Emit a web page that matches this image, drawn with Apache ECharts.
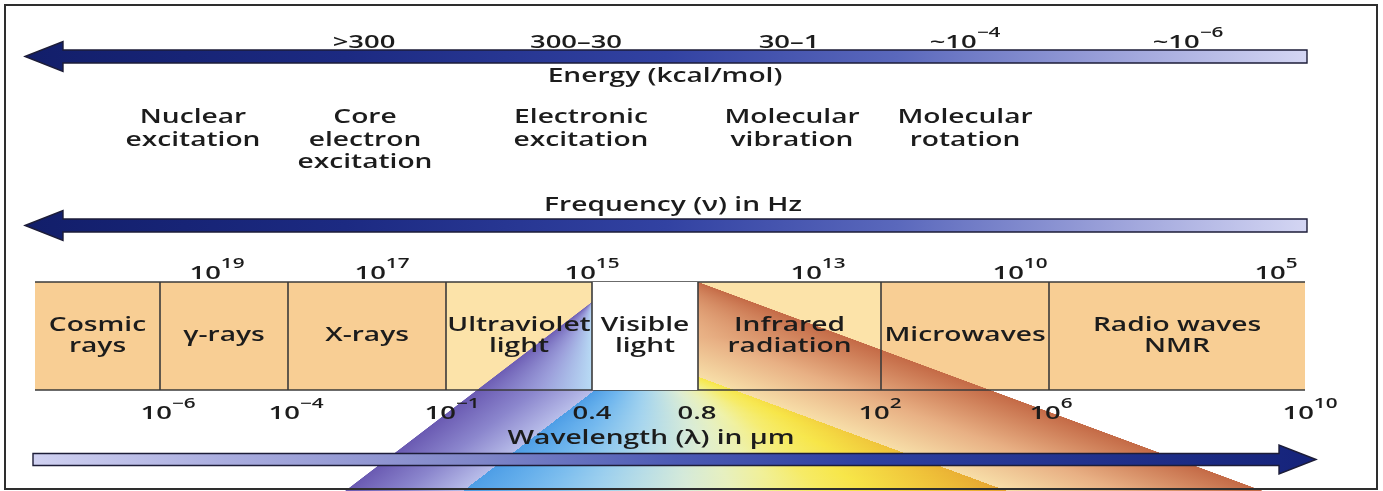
<!DOCTYPE html>
<html>
<head>
<meta charset="utf-8">
<script src="https://cdn.jsdelivr.net/npm/echarts@6/dist/echarts.min.js"></script>
<style>
html,body{margin:0;padding:0;background:#ffffff;}
#chart{width:1383px;height:491px;}
</style>
</head>
<body>
<div id="chart"></div>
<script>
// ================= DATA =================
const bandNames = ['Cosmic\nrays', 'γ-rays', 'X-rays', 'Ultraviolet\nlight', 'Visible\nlight', 'Infrared\nradiation', 'Microwaves', 'Radio waves\nNMR'];
const frequencyExponents = ['19', '17', '15', '13', '10', '5'];            // 10^n Hz
const wavelengthLabels = [['10', '−6'], ['10', '−4'], ['10', '−1'], ['0.4', ''], ['0.8', ''], ['10', '2'], ['10', '6'], ['10', '10']]; // µm
const energyLabels = [['>300', ''], ['300–30', ''], ['30–1', ''], ['~10', '−4'], ['~10', '−6']];   // kcal/mol
const processLabels = ['Nuclear\nexcitation', 'Core\nelectron\nexcitation', 'Electronic\nexcitation', 'Molecular\nvibration', 'Molecular\nrotation'];
const axisTitles = ['Energy (kcal/mol)', 'Frequency (ν) in Hz', 'Wavelength (λ) in μm'];

// ================= LAYOUT (positions in the diagram's coordinate scale) =================
const bandEdgeX = [35, 160, 288, 446, 592, 698, 881, 1049, 1305];
const freqLabelX = [217, 382, 592, 818, 1020, 1276];
const waveLabelX = [168, 296, 452, 592, 697, 880, 1051, 1310];
const energyLabelX = [364, 576, 789, 965, 1188];
const processLabelX = [193, 365, 581, 792, 965];
const axisTitlePos = [[665, 77], [673, 206], [651, 439]];
const ROW = { energy: 39, processTop: 106.5, freq: 270, band: 336, wave: 410 };
const BAND_TOP = 282, BAND_BOTTOM = 390;

// ================= STYLE =================
const FONT = "'Open Sans', 'Noto Sans', sans-serif";
const INK = '#1c1c1c';
const WEIGHT = 600;
const TEXT_SCALE_X = 1.48;
const bandFill = ['#f8ce94', '#f8ce94', '#f8ce94', '#fce3a9', '#ffffff', '#fce3a9', '#f8ce94', '#f8ce94'];
const VISIBLE_INDEX = bandNames.indexOf('Visible\nlight');

const arrows = [
  { y: 56.5, tip: 25, neck: 63, tail: 1307, half: 6.5, head: 15,
    stops: [[0, '#121e6a'], [0.25, '#1c2a82'], [0.5, '#3242a2'], [0.68, '#5a68bc'], [0.85, '#9ca2da'], [1, '#d4d6f3']] },
  { y: 225.5, tip: 25, neck: 63, tail: 1307, half: 6.5, head: 15,
    stops: [[0, '#121e6a'], [0.25, '#1c2a82'], [0.5, '#3242a2'], [0.68, '#5a68bc'], [0.85, '#9ca2da'], [1, '#d4d6f3']] },
  { y: 459.5, tip: 1316, neck: 1279, tail: 33, half: 6, head: 14.5,
    stops: [[0, '#d0d1f1'], [0.15, '#aaaddf'], [0.35, '#7f86c8'], [0.5, '#4c5ab4'], [0.65, '#2e40a0'], [1, '#15237a']] }
];

const FAN = { leftApexY: 302, rightApexY: 282, baseY: 491, leftBaseX: 345, rightBaseX: 1263, violetWidth: 118, redWidth: 256 };
const violetBelow = [[0, '#6a5ab2'], [0.5, '#8b86cd'], [1, '#b8bde9']];
const violetInBand = [[0, '#6d5db4'], [0.55, '#9c9fdb'], [1, '#b8dbf5']];
const middlePalette = [[0, '#4e9ee6'], [0.12, '#6fb6ee'], [0.27, '#a8d6ee'], [0.42, '#dcedd6'], [0.52, '#eef2b0'], [0.62, '#f6ec6c'], [0.72, '#f7e648'], [0.87, '#f0c43a'], [1, '#e6a430']];
const redStops = [[0, '#f7dea8'], [0.45, '#e8b084'], [1, '#c46a46']];

// ================= LABEL LIST =================
const labelItems = [];
energyLabels.forEach((l, i) => labelItems.push({ x: energyLabelX[i], y: ROW.energy, kind: 'tick', base: l[0], sup: l[1] }));
axisTitles.forEach((t, i) => labelItems.push({ x: axisTitlePos[i][0], y: axisTitlePos[i][1], kind: 'title', text: t }));
processLabels.forEach((t, i) => labelItems.push({ x: processLabelX[i], y: ROW.processTop, kind: 'process', text: t }));
frequencyExponents.forEach((e, i) => labelItems.push({ x: freqLabelX[i], y: ROW.freq, kind: 'tick', base: '10', sup: e }));
wavelengthLabels.forEach((l, i) => labelItems.push({ x: waveLabelX[i], y: ROW.wave, kind: 'tick', base: l[0], sup: l[1] }));
bandNames.forEach((n, i) => labelItems.push({ x: (bandEdgeX[i] + bandEdgeX[i + 1]) / 2, y: ROW.band, kind: 'band', text: n }));

// ================= HELPERS =================
function px(api, x, y) { return api.coord([x, y]); }
function hex2rgb(h) { return [parseInt(h.slice(1, 3), 16), parseInt(h.slice(3, 5), 16), parseInt(h.slice(5, 7), 16)]; }
function samplePalette(pal, f) {
  f = Math.max(0, Math.min(1, f));
  for (let k = 1; k < pal.length; k++) {
    if (f <= pal[k][0]) {
      const t = (f - pal[k - 1][0]) / (pal[k][0] - pal[k - 1][0] || 1);
      const a = hex2rgb(pal[k - 1][1]), b = hex2rgb(pal[k][1]);
      return 'rgb(' + a.map((v, j) => Math.round(v + (b[j] - v) * t)).join(',') + ')';
    }
  }
  return pal[pal.length - 1][1];
}

// ================= RENDERERS =================
function renderBand(params, api) {
  const i = api.value(0);
  const a = px(api, bandEdgeX[i], BAND_TOP), b = px(api, bandEdgeX[i + 1], BAND_BOTTOM);
  return { type: 'rect', shape: { x: a[0], y: a[1], width: b[0] - a[0], height: b[1] - a[1] }, style: { fill: bandFill[i] } };
}

function renderBandOverlay(params, api) {
  const i = api.value(0);
  const children = [];
  const a = px(api, bandEdgeX[i], BAND_TOP), b = px(api, bandEdgeX[i + 1], BAND_BOTTOM);
  if (i === VISIBLE_INDEX) {
    children.push({ type: 'rect', shape: { x: a[0], y: a[1], width: b[0] - a[0], height: b[1] - a[1] }, style: { fill: bandFill[i] } });
  }
  const line = { stroke: '#3a3a3a', lineWidth: 1.6 };
  if (i > 0) children.push({ type: 'line', shape: { x1: a[0], y1: a[1], x2: a[0], y2: b[1] }, style: line });
  if (i === 0) {
    const e = px(api, bandEdgeX[bandEdgeX.length - 1], BAND_BOTTOM);
    children.push({ type: 'line', shape: { x1: a[0], y1: a[1], x2: e[0], y2: a[1] }, style: line });
    children.push({ type: 'line', shape: { x1: a[0], y1: e[1], x2: e[0], y2: e[1] }, style: line });
  }
  return { type: 'group', children };
}

function renderFan(params, api) {
  const xa = bandEdgeX[VISIBLE_INDEX], xb = bandEdgeX[VISIBLE_INDEX + 1];
  const children = [];
  const clamp = v => Math.max(0, Math.min(1, v));
  for (let y = FAN.rightApexY; y < FAN.baseY; y++) {
    const yc = y + 0.5;
    const xL1 = yc < FAN.leftApexY ? xa : xa + (FAN.leftBaseX - xa) * (yc - FAN.leftApexY) / (FAN.baseY - FAN.leftApexY);
    const xR1 = xb + (FAN.rightBaseX - xb) * (yc - FAN.rightApexY) / (FAN.baseY - FAN.rightApexY);
    const inBand = yc < BAND_BOTTOM;
    const xL2 = inBand ? xa : xL1 + FAN.violetWidth;
    const xR2 = Math.max(xR1 - FAN.redWidth, xL2);
    const pL1 = px(api, xL1, y)[0], pL2 = px(api, xL2, y)[0], pR2 = px(api, xR2, y)[0], pR1 = px(api, xR1, y)[0];
    const top = px(api, 0, y)[1], bot = px(api, 0, y + 1)[1];
    const W = pR1 - pL1;
    if (W <= 0.5) continue;
    const stops = [];
    const push = (x, c) => stops.push({ offset: clamp((x - pL1) / W), color: c });
    const add = (arr, from, to) => arr.forEach(([o, c]) => push(from + (to - from) * o, c));
    if (pL2 > pL1 + 0.01) add(inBand ? violetInBand : violetBelow, pL1, pL2);
    if (pR2 > pL2 + 0.01) {
      // near the band the spectrum only reaches yellow; lower down it runs on to gold
      const t = clamp((yc - BAND_BOTTOM) / (FAN.baseY - BAND_BOTTOM));
      const reach = 0.72 + 0.28 * t;
      for (let k = 0; k <= 12; k++) {
        const u = k / 12;
        push(pL2 + (pR2 - pL2) * u, samplePalette(middlePalette, u * reach));
      }
    }
    add(redStops, pR2, pR1);
    children.push({
      type: 'rect',
      shape: { x: pL1, y: top, width: W, height: (bot - top) + 0.6 },
      style: { fill: { type: 'linear', x: pL1, y: 0, x2: pR1, y2: 0, colorStops: stops, global: true } }
    });
  }
  return { type: 'group', children };
}

function renderArrow(params, api) {
  const d = arrows[params.dataIndex];
  const pts = [[d.tip, d.y], [d.neck, d.y - d.head], [d.neck, d.y - d.half], [d.tail, d.y - d.half],
               [d.tail, d.y + d.half], [d.neck, d.y + d.half], [d.neck, d.y + d.head]].map(p => px(api, p[0], p[1]));
  const xs = pts.map(p => p[0]);
  const x0 = Math.min.apply(null, xs), x1 = Math.max.apply(null, xs);
  return {
    type: 'polygon', shape: { points: pts },
    style: {
      fill: { type: 'linear', x: x0, y: 0, x2: x1, y2: 0, global: true, colorStops: d.stops.map(s => ({ offset: s[0], color: s[1] })) },
      stroke: '#1d1d38', lineWidth: 1.4, lineJoin: 'miter'
    }
  };
}

function renderLabel(params, api) {
  const d = labelItems[params.dataIndex];
  const p = px(api, api.value(0), api.value(1));
  const style = { x: 0, y: 0, fill: INK, fontFamily: FONT, fontWeight: WEIGHT, align: 'center' };
  if (d.kind === 'tick') {
    style.text = '{b|' + d.base + '}' + (d.sup ? '{s|' + d.sup + '}' : '');
    style.rich = {
      b: { fontSize: 18.5, fontFamily: FONT, fontWeight: WEIGHT, fill: INK, lineHeight: 26, verticalAlign: 'bottom' },
      s: { fontSize: 14, fontFamily: FONT, fontWeight: WEIGHT, fill: INK, lineHeight: 14, verticalAlign: 'top' }
    };
    style.verticalAlign = 'middle';
  } else if (d.kind === 'title') {
    style.text = d.text; style.fontSize = 19; style.verticalAlign = 'middle';
  } else if (d.kind === 'process') {
    style.text = d.text; style.fontSize = 19; style.lineHeight = 22.5; style.verticalAlign = 'top';
  } else {
    style.text = d.text; style.fontSize = 19; style.lineHeight = 21; style.verticalAlign = 'middle';
  }
  return { type: 'text', x: p[0], y: p[1], scaleX: TEXT_SCALE_X, style };
}

// ================= CHART =================
const chart = echarts.init(document.getElementById('chart'), null, { renderer: 'canvas' });
const bandData = bandNames.map((n, i) => [i, 0]);
chart.setOption({
  animation: false,
  backgroundColor: '#ffffff',
  grid: { left: 0, right: 0, top: 0, bottom: 0 },
  xAxis: { type: 'value', min: 0, max: 1383, show: false },
  yAxis: { type: 'value', min: 0, max: 491, inverse: true, show: false },
  graphic: [{
    type: 'rect', z: 100, silent: true,
    shape: { x: 5, y: 5, width: 1372, height: 484 },
    style: { fill: 'none', stroke: '#2e2e2e', lineWidth: 2 }
  }],
  series: [
    { type: 'custom', name: 'bands', z: 1, coordinateSystem: 'cartesian2d', renderItem: renderBand, data: bandData, silent: true },
    { type: 'custom', name: 'fan', z: 2, coordinateSystem: 'cartesian2d', renderItem: renderFan, data: [[0, 0]], silent: true },
    { type: 'custom', name: 'bandOverlay', z: 3, coordinateSystem: 'cartesian2d', renderItem: renderBandOverlay, data: bandData, silent: true },
    { type: 'custom', name: 'arrows', z: 4, coordinateSystem: 'cartesian2d', renderItem: renderArrow, data: arrows.map((a, i) => [i, 0]), silent: true },
    { type: 'custom', name: 'labels', z: 5, coordinateSystem: 'cartesian2d', renderItem: renderLabel, data: labelItems.map(d => [d.x, d.y]), silent: true }
  ]
});
</script>
</body>
</html>
